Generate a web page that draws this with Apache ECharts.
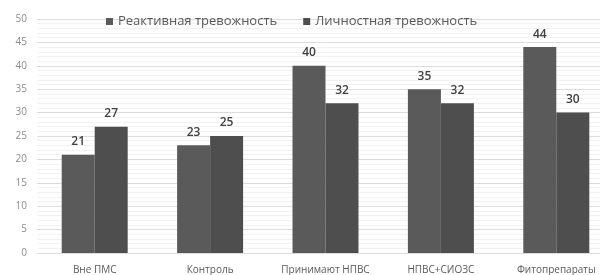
<!DOCTYPE html>
<html>
<head>
<meta charset="utf-8">
<script src="https://cdn.jsdelivr.net/npm/echarts@6/dist/echarts.min.js"></script>
<style>
  html, body { margin: 0; padding: 0; background: #fff; overflow: hidden; }
  #chart { width: 614px; height: 275px; }
</style>
</head>
<body>
<div id="chart"></div>
<script>
const categories = ["Вне ПМС", "Контроль", "Принимают НПВС", "НПВС+СИОЗС", "Фитопрепараты"];
const reactive = [21, 23, 40, 35, 44];
const personal = [27, 25, 32, 32, 30];
const seriesNames = ["Реактивная тревожность", "Личностная тревожность"];

const chart = echarts.init(document.getElementById("chart"));
const labelStyle = {
  show: true,
  position: "top",
  distance: 7,
  color: "#404040",
  fontSize: 12,
  fontWeight: 600,
  fontFamily: "Open Sans",
};
chart.setOption({
  animation: false,
  textStyle: { fontFamily: "Open Sans" },
  legend: {
    top: 10,
    left: 101,
    itemWidth: 7,
    itemHeight: 7,
    itemGap: 26,
    icon: "rect",
    textStyle: { color: "#595959", fontSize: 13 },
    data: seriesNames,
  },
  grid: { left: 37, right: 0, top: 19, bottom: 22 },
  xAxis: {
    type: "category",
    data: categories,
    axisLine: { show: false },
    axisTick: { show: false },
    axisLabel: { color: "#595959", fontSize: 10, margin: 12, interval: 0 },
  },
  yAxis: {
    type: "value",
    min: 0,
    max: 50,
    interval: 5,
    axisLabel: { color: "#8c8c8c", fontSize: 10, margin: 10 },
    splitLine: { lineStyle: { color: "#dcdcdc" } },
    minorTick: { show: false, splitNumber: 5 },
    minorSplitLine: { show: true, lineStyle: { color: "#f2f2f2" } },
  },
  series: [
    {
      name: seriesNames[0],
      type: "bar",
      data: reactive,
      barWidth: 33,
      barGap: "0%",
      itemStyle: { color: "#5a5a5a" },
      label: labelStyle,
    },
    {
      name: seriesNames[1],
      type: "bar",
      data: personal,
      barWidth: 33,
      itemStyle: { color: "#4e4e4e" },
      label: labelStyle,
    },
  ],
});
</script>
</body>
</html>
